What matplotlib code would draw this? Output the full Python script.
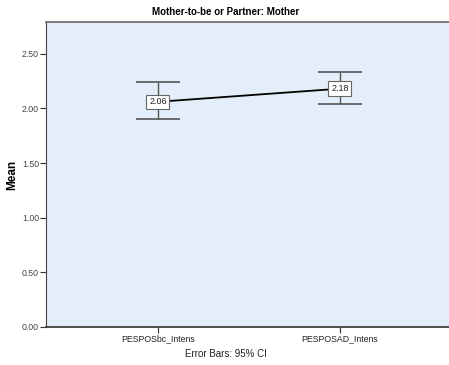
import matplotlib
matplotlib.use("Agg")
import matplotlib.pyplot as plt

plt.rcParams["font.family"] = ["Liberation Sans", "DejaVu Sans"]

categories = ["PESPOSbc_Intens", "PESPOSAD_Intens"]
means = [2.06, 2.18]
ci_low = [1.90, 2.04]
ci_high = [2.24, 2.33]
labels = ["2.06", "2.18"]
yticks = [0.0, 0.5, 1.0, 1.5, 2.0, 2.5]

fig = plt.figure(figsize=(4.49, 3.65), dpi=100)
ax = fig.add_axes([46 / 449, 38 / 365, 1 - 46 / 449, (327 - 22) / 365])
ax.set_facecolor("#e3eefa")

x = list(range(len(categories)))
err_lo = [m - l for m, l in zip(means, ci_low)]
err_hi = [h - m for m, h in zip(means, ci_high)]
ax.errorbar(x, means, yerr=[err_lo, err_hi], fmt="none", ecolor="#555555",
            elinewidth=1.0, capsize=16, capthick=1.2, zorder=2)
ax.plot(x, means, color="black", lw=1.3, zorder=3)
for xi, m, t in zip(x, means, labels):
    ax.text(xi, m, t, ha="center", va="center", fontsize=6.5, color="#222222",
            zorder=4,
            bbox=dict(boxstyle="square,pad=0.3", fc="white", ec="#666666", lw=0.8))

ax.set_xlim(-0.615, 1.6)
ax.set_ylim(0, 2.79)
ax.set_xticks(x)
ax.set_xticklabels(categories, fontsize=6.3, color="#222222")
ax.set_yticks(yticks)
ax.set_yticklabels(["%.2f" % v for v in yticks], fontsize=6.3, color="#444444")
ax.tick_params(axis="both", length=4, width=0.8, color="#333333", pad=1)

ax.spines["right"].set_visible(False)
ax.spines["top"].set_color("#666666")
ax.spines["top"].set_linewidth(1.2)
ax.spines["left"].set_color("#444444")
ax.spines["bottom"].set_color("#333333")
ax.spines["bottom"].set_linewidth(1.2)

ax.set_ylabel("Mean", fontsize=8.5, fontweight="bold")
ax.yaxis.set_label_coords(-(46 - 18) / 403, 0.5)
fig.text(226 / 449, 1 - 12 / 365, "Mother-to-be or Partner: Mother",
         ha="center", va="center", fontsize=7, fontweight="bold")
fig.text(226 / 449, 1 - 354 / 365, "Error Bars: 95% CI",
         ha="center", va="center", fontsize=7, color="#222222")

fig.savefig("out.png", dpi=100)
